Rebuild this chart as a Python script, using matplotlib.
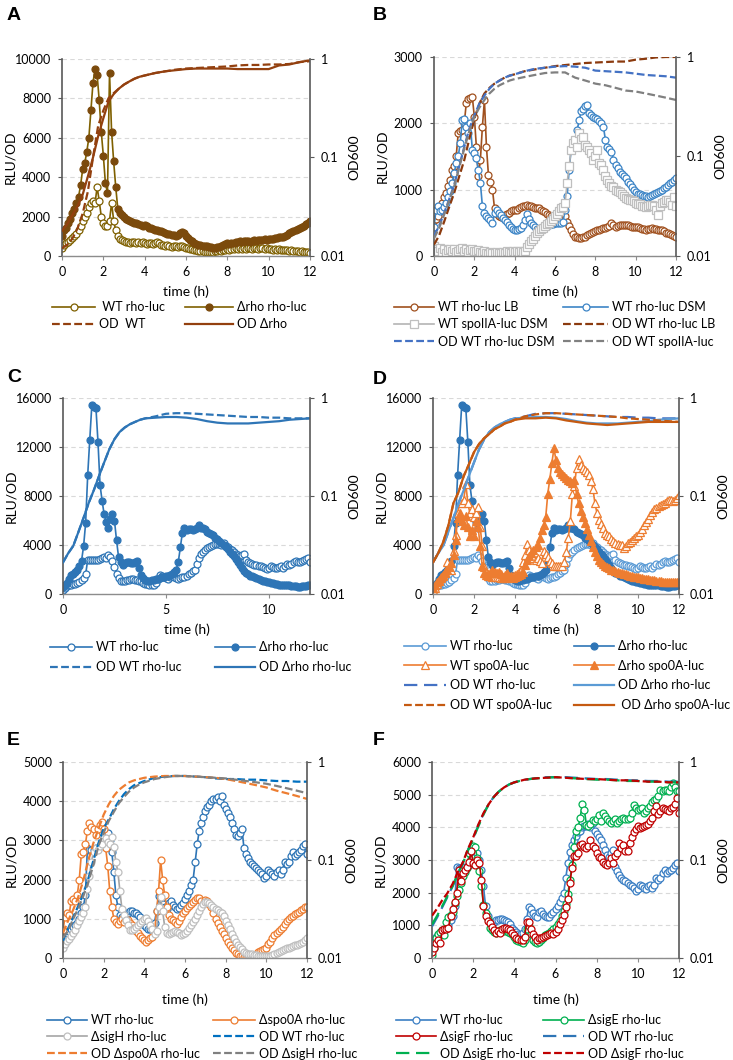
import numpy as np
import matplotlib
matplotlib.use("Agg")
import matplotlib.pyplot as plt
from matplotlib.ticker import NullLocator

plt.rcParams['font.family'] = ['Lato', 'DejaVu Sans']
plt.rcParams['font.size'] = 9

# luminescence read every 0.1 h, OD600 on a coarser grid
t = np.round(np.arange(121) * 0.1, 1)
t_od = [0, 0.25, 0.5, 0.75, 1,
        1.25, 1.5, 1.75, 2,
        2.25, 2.5, 2.75, 3,
        3.25, 3.5, 3.75, 4,
        4.5, 5, 5.5, 6,
        6.5, 7, 7.5, 8,
        8.5, 9, 9.5, 10,
        10.5, 11, 11.5, 12]

# ---- panel A (LB) ----
a_wt = [400, 550, 650, 700, 800, 900, 1000, 1100, 1300, 1500,
        1800, 2000, 2200, 2500, 2700, 2800, 2700, 3500, 2800, 2000,
        1700, 1500, 1500, 1800, 2700, 1800, 1300, 1000, 850, 800,
        750, 700, 700, 650, 700, 700, 650, 700, 650, 700,
        650, 600, 650, 650, 600, 650, 700, 650, 550, 550,
        500, 550, 500, 450, 500, 500, 450, 500, 500, 450,
        400, 400, 350, 350, 300, 300, 250, 250, 250, 220,
        200, 200, 200, 220, 250, 250, 300, 250, 300, 300,
        350, 300, 350, 350, 400, 350, 400, 350, 400, 350,
        400, 400, 350, 400, 400, 350, 400, 400, 350, 400,
        350, 350, 300, 350, 300, 350, 300, 300, 300, 300,
        250, 300, 250, 250, 250, 200, 250, 200, 200, 200,
        150]
a_drho = [1000, 1300, 1400, 1700, 1900, 2200, 2400, 2700, 3000, 3600,
          4400, 4700, 5300, 6000, 7400, 8800, 9500, 9200, 7900, 6300,
          5100, 3700, 3200, 9300, 6300, 4800, 3500, 2400, 2200, 2100,
          2000, 1900, 1850, 1800, 1750, 1700, 1700, 1600, 1550, 1500,
          1550, 1500, 1400, 1400, 1350, 1300, 1300, 1250, 1250, 1200,
          1150, 1100, 1100, 1050, 1050, 1000, 1050, 1150, 1200, 1150,
          1000, 900, 800, 750, 650, 600, 550, 550, 500, 500,
          500, 450, 450, 400, 400, 450, 450, 500, 550, 600,
          650, 600, 650, 650, 700, 700, 750, 700, 750, 750,
          750, 700, 750, 800, 750, 800, 800, 800, 850, 800,
          850, 850, 850, 900, 900, 950, 950, 950, 1000, 1050,
          1150, 1200, 1250, 1300, 1350, 1400, 1450, 1500, 1600, 1700,
          1800]
a_od_wt = [0.012, 0.013, 0.015, 0.019, 0.027,
           0.045, 0.10, 0.21, 0.30,
           0.40, 0.45, 0.50, 0.55,
           0.59, 0.63, 0.66, 0.68,
           0.72, 0.75, 0.78, 0.80,
           0.81, 0.82, 0.83, 0.84,
           0.86, 0.87, 0.87, 0.88,
           0.88, 0.89, 0.93, 0.95]
a_od_drho = [0.018, 0.021, 0.026, 0.032, 0.042,
             0.064, 0.10, 0.165, 0.25,
             0.37, 0.44, 0.50, 0.55,
             0.59, 0.63, 0.66, 0.68,
             0.72, 0.75, 0.77, 0.79,
             0.80, 0.80, 0.80, 0.80,
             0.79, 0.79, 0.79, 0.79,
             0.86, 0.88, 0.93, 0.97]

# ---- panel B (LB vs DSM) ----
b_lb = [540, 560, 600, 700, 800, 890, 950, 1050, 1150, 1300,
        1350, 1500, 1850, 1880, 1900, 2000, 2300, 2370, 2380, 2400,
        2100, 1650, 1200, 1450, 1950, 2350, 1650, 1220, 1120, 1000,
        720, 640, 600, 590, 590, 620, 640, 650, 680, 690,
        700, 700, 720, 740, 750, 760, 770, 760, 750, 740,
        730, 720, 720, 700, 680, 660, 640, 620, 600, 590,
        600, 620, 630, 640, 640, 600, 520, 450, 390, 330,
        290, 280, 270, 270, 280, 290, 310, 330, 350, 365,
        380, 390, 390, 400, 420, 420, 430, 450, 490, 460,
        440, 450, 460, 460, 470, 470, 460, 450, 440, 440,
        440, 430, 420, 410, 400, 390, 400, 410, 415, 400,
        400, 390, 390, 390, 370, 350, 340, 330, 310, 300,
        290]
b_dsm = [440, 700, 750, 680, 700, 740, 800, 890, 980, 1100,
         1250, 1400, 1500, 1700, 2050, 2070, 1950, 1850, 2000, 1600,
         1550, 1470, 1300, 1100, 750, 650, 600, 580, 550, 500,
         650, 690, 650, 620, 570, 540, 510, 470, 430, 400,
         390, 390, 400, 420, 460, 550, 640, 560, 500, 460,
         430, 400, 400, 420, 440, 450, 460, 470, 480, 480,
         490, 490, 490, 500, 520, 700, 900, 1300, 1600, 1650,
         1750, 1900, 2050, 2180, 2220, 2260, 2280, 2150, 2120, 2100,
         2080, 2060, 2030, 2000, 1950, 1750, 1650, 1620, 1570, 1450,
         1370, 1320, 1270, 1240, 1210, 1180, 1120, 1080, 1045, 990,
         960, 940, 930, 920, 910, 900, 895, 900, 920, 940,
         950, 970, 980, 995, 1020, 1045, 1070, 1100, 1120, 1150,
         1170]
b_spo = [150, 100, 80, 120, 60, 100, 50, 90, 110, 70,
         100, 60, 80, 110, 120, 80, 100, 60, 90, 110,
         80, 70, 90, 60, 40, 70, 50, 30, 60, 40,
         50, 60, 40, 50, 60, 50, 70, 60, 50, 70,
         60, 80, 60, 70, 60, 80, 140, 180, 220, 260,
         300, 350, 380, 400, 420, 450, 480, 500, 530, 560,
         600, 640, 680, 720, 740, 800, 1100, 1350, 1600, 1700,
         1750, 1650, 1850, 1770, 1800, 1670, 1650, 1600, 1550, 1450,
         1500, 1600, 1400, 1370, 1300, 1200, 1150, 1100, 1050, 1040,
         1000, 980, 970, 930, 900, 880, 860, 850, 845, 830,
         800, 790, 780, 760, 750, 745, 760, 770, 770, 750,
         700, 620, 750, 800, 820, 840, 850, 820, 770, 890,
         750]
b_od_lb = [0.013, 0.016, 0.022, 0.031, 0.043,
           0.063, 0.092, 0.15, 0.24,
           0.34, 0.43, 0.49, 0.54,
           0.58, 0.62, 0.65, 0.67,
           0.72, 0.75, 0.78, 0.81,
           0.83, 0.85, 0.87, 0.88,
           0.89, 0.90, 0.90, 0.94,
           0.96, 0.99, 1.0, 1.0]
b_od_dsm = [0.016, 0.020, 0.027, 0.037, 0.052,
            0.08, 0.125, 0.19, 0.26,
            0.34, 0.41, 0.48, 0.54,
            0.58, 0.62, 0.65, 0.67,
            0.72, 0.76, 0.78, 0.80,
            0.81, 0.80, 0.78, 0.73,
            0.72, 0.71, 0.70, 0.68,
            0.66, 0.65, 0.64, 0.62]
b_od_spo = [0.015, 0.019, 0.026, 0.036, 0.050,
            0.078, 0.12, 0.18, 0.25,
            0.31, 0.37, 0.43, 0.48,
            0.52, 0.55, 0.58, 0.60,
            0.63, 0.66, 0.69, 0.70,
            0.70, 0.62, 0.58, 0.54,
            0.52, 0.49, 0.46, 0.45,
            0.43, 0.41, 0.39, 0.37]

# ---- rho-luc reporters used in C-F ----
wt_rho = [300, 500, 650, 700, 750, 800, 850, 900, 1000, 1150,
          1300, 1600, 2800, 2750, 2750, 2750, 2800, 2800, 2850, 2950,
          3050, 2900, 3200, 3000, 2700, 2200, 1600, 1300, 1100, 1050,
          1100, 1150, 1150, 1200, 1200, 1150, 1140, 1100, 1050, 930,
          850, 800, 750, 740, 760, 900, 1200, 1570, 1500, 1380,
          1300, 1250, 1400, 1450, 1350, 1300, 1250, 1270, 1350, 1400,
          1500, 1600, 1700, 1850, 2000, 2450, 2900, 3250, 3450, 3600,
          3750, 3850, 3900, 4000, 4050, 4050, 4100, 4000, 4130, 3900,
          3800, 3700, 3600, 3450, 3300, 3150, 3100, 3200, 3300, 2800,
          2650, 2550, 2450, 2400, 2350, 2300, 2250, 2200, 2150, 2050,
          2100, 2250, 2200, 2150, 2100, 2200, 2250, 2150, 2250, 2450,
          2400, 2450, 2600, 2700, 2600, 2650, 2700, 2750, 2850, 2900,
          2650]
drho_rho = [600, 750, 900, 1200, 1550, 1650, 1800, 2000, 2300, 2700,
            3900, 5800, 9700, 12600, 15400, 15300, 15200, 12400, 8900, 7600,
            6500, 5900, 5400, 6100, 6500, 6000, 4400, 3000, 2600, 2400,
            2500, 2650, 2600, 2550, 2500, 2650, 2700, 2100, 1550, 1300,
            1150, 1100, 1100, 1150, 1150, 1200, 1250, 1300, 1350, 1400,
            1450, 1500, 1550, 1650, 1800, 2000, 2600, 3800, 5000, 5400,
            5200, 5300, 5300, 5200, 5300, 5400, 5600, 5400, 5400, 5300,
            5050, 4950, 4900, 4800, 4600, 4450, 4300, 4150, 4000, 3800,
            3650, 3450, 3300, 3100, 2850, 2600, 2350, 2100, 1900, 1700,
            1600, 1500, 1450, 1350, 1300, 1200, 1150, 1100, 1050, 1000,
            950, 900, 880, 850, 800, 760, 750, 740, 740, 720,
            700, 650, 620, 620, 600, 600, 620, 640, 650, 700,
            740]
c_od_drho = [0.021, 0.026, 0.031, 0.043, 0.060,
             0.085, 0.115, 0.16, 0.22,
             0.30, 0.38, 0.45, 0.50,
             0.54, 0.57, 0.60, 0.62,
             0.63, 0.64, 0.64, 0.63,
             0.61, 0.58, 0.56, 0.55,
             0.55, 0.55, 0.56, 0.57,
             0.58, 0.60, 0.61, 0.62]
c_od_wt = [0.021, 0.026, 0.031, 0.043, 0.060,
           0.085, 0.115, 0.16, 0.22,
           0.30, 0.38, 0.45, 0.50,
           0.54, 0.57, 0.60, 0.62,
           0.65, 0.69, 0.70, 0.70,
           0.69, 0.68, 0.67, 0.66,
           0.65, 0.64, 0.64, 0.63,
           0.63, 0.62, 0.62, 0.62]

# ---- panel D (spo0A-luc) ----
wt_spo0a = [330, 500, 800, 1100, 1300, 1500, 1800, 2600, 2200, 2000,
            3500, 4800, 6600, 7400, 7400, 7700, 9000, 7400, 6600, 6900,
            6300, 6600, 7100, 5500, 3900, 2200, 1800, 1650, 1450, 1400,
            1420, 1400, 1350, 1300, 1280, 1300, 1350, 1420, 1450, 1500,
            1550, 1600, 1800, 2000, 2600, 3200, 4100, 3600, 3300, 2900,
            2800, 2900, 2700, 2500, 3500, 3300, 3050, 2700, 2500, 2300,
            2250, 2250, 2250, 2300, 2650, 3400, 4600, 6000, 8200, 8800,
            10300, 11000, 10500, 10300, 10100, 10000, 9700, 9200, 8600, 7400,
            6600, 6050, 5700, 5400, 5000, 4800, 4700, 4500, 4300, 4150,
            4050, 4000, 4000, 3750, 3900, 4150, 4250, 4400, 4550, 4700,
            4850, 5050, 5300, 5650, 5900, 6150, 6450, 6700, 6900, 7050,
            7150, 7280, 7350, 7450, 7600, 7700, 7700, 7600, 7650, 7800,
            8100]
drho_spo0a = [460, 700, 950, 1150, 1350, 1550, 1750, 1950, 2200, 2500,
              3200, 4400, 6200, 6600, 6000, 5600, 6400, 5500, 4700, 5200,
              4700, 6000, 5500, 3900, 2300, 1700, 1550, 1450, 1700, 1950,
              1800, 1700, 1800, 1600, 1420, 1550, 1690, 1450, 1350, 1280,
              1350, 1450, 1550, 1650, 1800, 2400, 2800, 3100, 3350, 3600,
              3800, 4000, 4600, 5200, 5600, 6300, 8200, 9400, 10700, 11900,
              10900, 10300, 10000, 9800, 9600, 9450, 9300, 9200, 9050, 9300,
              8200, 7400, 6800, 6300, 5800, 5300, 4800, 4300, 3850, 3450,
              3100, 2800, 2600, 2450, 2300, 2200, 2100, 2000, 1950, 1850,
              1800, 1750, 1700, 1650, 1600, 1550, 1500, 1450, 1400, 1380,
              1350, 1300, 1280, 1250, 1230, 1200, 1170, 1150, 1120, 1100,
              1080, 1050, 1020, 1010, 1000, 1000, 1000, 1010, 1000, 1000,
              1010]
d_od_drho_spo = [0.021, 0.026, 0.034, 0.050, 0.085,
                 0.11, 0.16, 0.21, 0.28,
                 0.34, 0.39, 0.43, 0.48,
                 0.51, 0.55, 0.57, 0.60,
                 0.62, 0.62, 0.63, 0.62,
                 0.59, 0.57, 0.55, 0.54,
                 0.53, 0.54, 0.55, 0.56,
                 0.57, 0.57, 0.57, 0.57]
d_od_wt_spo = [0.021, 0.026, 0.034, 0.050, 0.085,
               0.11, 0.16, 0.21, 0.28,
               0.34, 0.39, 0.43, 0.48,
               0.51, 0.55, 0.57, 0.60,
               0.65, 0.68, 0.70, 0.70,
               0.69, 0.68, 0.67, 0.66,
               0.65, 0.64, 0.62, 0.61,
               0.60, 0.59, 0.58, 0.57]

# ---- panel E (spo0A / sigH mutants) ----
spo0a_rho = [710, 1050, 1150, 1100, 1450, 1500, 1450, 1600, 2000, 2650,
             2700, 2900, 3250, 3450, 3350, 3300, 3150, 3300, 3400, 3480,
             3300, 2800, 2350, 1700, 1300, 1000, 920, 880, 950, 1000,
             930, 960, 970, 900, 840, 760, 700, 630, 570, 500,
             450, 420, 460, 500, 540, 650, 1200, 1700, 2500, 2000,
             1600, 1300, 1100, 1000, 970, 920, 880, 950, 1050, 1150,
             1200, 1280, 1330, 1380, 1440, 1480, 1520, 1520, 1450, 1390,
             1480, 1450, 1380, 1300, 1150, 1000, 900, 800, 700, 600,
             500, 420, 340, 260, 200, 140, 90, 60, 40, 30,
             20, 30, 40, 60, 80, 100, 150, 180, 200, 230,
             260, 350, 420, 500, 580, 640, 700, 750, 800, 870,
             950, 1000, 1050, 1080, 1120, 1150, 1180, 1220, 1250, 1300,
             1310]
sigh_rho = [250, 350, 440, 480, 550, 640, 720, 830, 950, 1050,
            1150, 1300, 1750, 2100, 2450, 2700, 2800, 2750, 2850, 2920,
            3050, 3050, 2950, 2920, 3090, 2840, 2450, 2200, 1700, 1250,
            1100, 970, 850, 720, 720, 750, 800, 850, 900, 950,
            1000, 1020, 950, 850, 740, 600, 700, 1300, 1550, 1200,
            800, 650, 600, 630, 660, 680, 660, 630, 590, 610,
            640, 690, 760, 850, 920, 990, 1100, 1200, 1310, 1370,
            1420, 1440, 1400, 1360, 1300, 1260, 1230, 1180, 1140, 1060,
            950, 850, 730, 620, 500, 420, 340, 280, 230, 150,
            120, 110, 100, 90, 80, 70, 60, 50, 40, 40,
            40, 40, 60, 80, 100, 120, 150, 180, 210, 230,
            250, 260, 280, 300, 320, 340, 360, 390, 420, 460,
            510]
e_od_wt = [0.015, 0.020, 0.026, 0.034, 0.045,
           0.065, 0.10, 0.15, 0.21,
           0.26, 0.33, 0.40, 0.47,
           0.53, 0.58, 0.61, 0.64,
           0.69, 0.71, 0.72, 0.72,
           0.71, 0.70, 0.68, 0.67,
           0.67, 0.66, 0.66, 0.65,
           0.64, 0.64, 0.63, 0.63]
e_od_spo0a = [0.018, 0.024, 0.031, 0.042, 0.062,
              0.10, 0.15, 0.21, 0.29,
              0.37, 0.45, 0.52, 0.57,
              0.62, 0.65, 0.67, 0.69,
              0.71, 0.72, 0.72, 0.72,
              0.71, 0.70, 0.69, 0.67,
              0.64, 0.61, 0.58, 0.55,
              0.51, 0.48, 0.45, 0.42]
e_od_sigh = [0.016, 0.019, 0.025, 0.032, 0.043,
             0.06, 0.09, 0.14, 0.19,
             0.25, 0.31, 0.38, 0.44,
             0.50, 0.55, 0.59, 0.62,
             0.67, 0.70, 0.72, 0.72,
             0.71, 0.70, 0.69, 0.68,
             0.66, 0.64, 0.62, 0.60,
             0.57, 0.54, 0.51, 0.48]

# ---- panel F (sigE / sigF mutants) ----
sige_rho = [100, 300, 600, 750, 800, 870, 710, 1100, 1250, 1320,
            1400, 1680, 1900, 2080, 2300, 2500, 2620, 2750, 3200, 3350,
            3420, 3400, 3050, 2650, 2200, 1630, 1380, 1200, 930, 850,
            800, 780, 820, 870, 840, 840, 870, 810, 760, 720,
            650, 560, 520, 490, 470, 550, 900, 980, 750, 560,
            500, 470, 500, 560, 620, 690, 730, 770, 830, 900,
            950, 1030, 1130, 1280, 1450, 1650, 1950, 2400, 2850, 3400,
            3900, 4000, 4300, 4700, 4540, 4080, 4030, 4100, 4220, 4200,
            4250, 4390, 4180, 4440, 4360, 4250, 4180, 4130, 4200, 4240,
            4130, 4180, 4240, 4290, 4270, 4240, 4300, 4450, 4690, 4600,
            4540, 4570, 4590, 4440, 4500, 4580, 4650, 4780, 4850, 4870,
            4950, 5150, 5100, 5130, 5150, 5100, 5230, 5360, 5250, 5100,
            5100]
sigf_rho = [180, 300, 450, 560, 450, 850, 880, 890, 920, 1300,
            1500, 1700, 2000, 2700, 2350, 2600, 2700, 2800, 2950, 3270,
            2900, 2850, 3000, 2900, 2400, 1600, 1280, 1120, 1070, 950,
            850, 770, 820, 770, 900, 920, 920, 900, 850, 780,
            700, 610, 570, 560, 560, 650, 1100, 1100, 880, 750,
            650, 560, 600, 610, 640, 680, 710, 740, 770, 730,
            800, 900, 1030, 1170, 1330, 1550, 1800, 2300, 2750, 3110,
            3110, 3200, 3450, 3500, 3400, 3370, 3420, 3600, 3420, 3370,
            3200, 3100, 3060, 2950, 2880, 2860, 2910, 3060, 2910, 3110,
            3200, 3520, 3370, 3450, 3270, 3270, 3520, 3700, 3850, 3950,
            4030, 3980, 4000, 4030, 4060, 4100, 4200, 4300, 4500, 4640,
            4400, 4500, 4590, 4560, 4540, 4490, 4600, 4620, 4700, 4900,
            4440]
f_od_wt = [0.021, 0.026, 0.033, 0.042, 0.054,
           0.072, 0.094, 0.127, 0.167,
           0.225, 0.295, 0.37, 0.44,
           0.50, 0.55, 0.59, 0.62,
           0.66, 0.68, 0.70, 0.70,
           0.70, 0.69, 0.68, 0.67,
           0.67, 0.66, 0.65, 0.65,
           0.64, 0.64, 0.63, 0.63]
f_od_sige = [0.022, 0.027, 0.034, 0.043, 0.054,
             0.072, 0.093, 0.125, 0.165,
             0.22, 0.29, 0.37, 0.44,
             0.50, 0.55, 0.59, 0.62,
             0.66, 0.68, 0.69, 0.70,
             0.69, 0.68, 0.67, 0.66,
             0.66, 0.65, 0.64, 0.64,
             0.63, 0.63, 0.62, 0.62]
f_od_sigf = [0.027, 0.032, 0.039, 0.046, 0.057,
             0.075, 0.095, 0.13, 0.17,
             0.23, 0.30, 0.37, 0.44,
             0.50, 0.55, 0.59, 0.62,
             0.66, 0.68, 0.69, 0.70,
             0.69, 0.68, 0.67, 0.67,
             0.66, 0.65, 0.65, 0.64,
             0.63, 0.63, 0.62, 0.62]

W, H = 733, 1060
FS = 9
FS_PX = FS * 100 / 72
DARK = '#595959'
SHORT = (0, (3.5, 1.5))
LONG = (0, (6, 3))

fig = plt.figure(figsize=(W / 100, H / 100), dpi=100)


def make_panel(box, ymax, ystep, xticks, xgap=29):
    l, top, r, b = box
    w, h = r - l, b - top
    ax = fig.add_axes([l / W, 1 - b / H, w / W, h / H])
    ax.set_xlim(0, 12)
    ax.set_ylim(0, ymax)
    ax.set_xticks(xticks)
    ax.set_yticks(np.arange(0, ymax + 1, ystep))
    ax.yaxis.grid(True, ls=(0, (4, 3)), color='#d9d9d9', lw=0.8)
    ax.set_axisbelow(True)
    ax.spines['top'].set_visible(False)
    ax.spines['right'].set_visible(False)
    ax.spines['left'].set_color(DARK)
    ax.spines['left'].set_linewidth(1.2)
    ax.spines['bottom'].set_color('#8c8c8c')
    ax.spines['bottom'].set_linewidth(1.0)
    ax.tick_params(axis='y', length=3, width=0.8, color=DARK, pad=5, labelsize=FS)
    ax.tick_params(axis='x', length=3, width=0.8, color='#8c8c8c', pad=4, labelsize=FS)
    ax2 = ax.twinx()
    ax2.set_yscale('log')
    ax2.set_ylim(0.01, 1)
    ax2.set_yticks([0.01, 0.1, 1])
    ax2.set_yticklabels(['0.01', '0.1', '1'])
    ax2.yaxis.set_minor_locator(NullLocator())
    for s in ['top', 'left', 'bottom']:
        ax2.spines[s].set_visible(False)
    ax2.spines['right'].set_color(DARK)
    ax2.spines['right'].set_linewidth(1.2)
    ax2.tick_params(axis='y', length=3, width=0.8, color=DARK, pad=5, labelsize=FS)
    ax.set_xlabel('time (h)', fontsize=FS + 1)
    ax.xaxis.set_label_coords(0.5, -xgap / h)
    ax.set_ylabel('RLU/OD', fontsize=FS + 1)
    ax.yaxis.set_label_coords(-46 / w, 0.5)
    ax2.set_ylabel('OD600', fontsize=FS + 1)
    ax2.yaxis.set_label_coords(1 + 38 / w, 0.5)
    return ax, ax2


def lum(ax, y, color, marker='o', filled=False, mc=None, ms=5):
    mc = mc or color
    return ax.plot(t, y, color=color, lw=1.2, marker=marker, ms=ms, mew=0.9,
                   mec=mc, mfc=mc if filled else 'white')[0]


def od(ax2, y, color, ls='-'):
    return ax2.plot(t_od, y, color=color, lw=1.6, ls=ls)[0]


def col_legend(lines, labels, x, y, pitch, hlen):
    fig.legend(lines, labels, loc='upper left',
               bbox_to_anchor=(x / W, 1 - (y - 6) / H),
               frameon=False, borderpad=0, borderaxespad=0,
               handlelength=hlen / FS_PX, handletextpad=0.3,
               labelspacing=(pitch - 11) / FS_PX, fontsize=FS)


def letter(x, y, s):
    fig.text(x / W, 1 - y / H, s, ha='left', va='top', fontsize=14,
             fontweight='bold', family=['Liberation Sans', 'DejaVu Sans'])


# A
ax, ax2 = make_panel((62, 59, 310, 256), 10000, 2000, range(0, 13, 2))
A_LINE, A_MK, A_OD = '#7f6000', '#7b4a0c', '#93400f'
h1 = lum(ax, a_wt, A_LINE)
h2 = lum(ax, a_drho, A_LINE, filled=True, mc=A_MK)
h3 = od(ax2, a_od_wt, A_OD, SHORT)
h4 = od(ax2, a_od_drho, A_OD)
col_legend([h1, h3], [' WT rho-luc', 'OD  WT'], 52, 307, 16, 43)
col_legend([h2, h4], ['\u0394rho rho-luc', 'OD \u0394rho'], 185, 307, 16, 48)
letter(7, 7, 'A')

# B
ax, ax2 = make_panel((434, 57, 676, 256), 3000, 1000, range(0, 13, 2))
h1 = lum(ax, b_lb, '#a0501e')
h2 = lum(ax, b_dsm, '#3d85c6')
h3 = lum(ax, b_spo, '#b4b4b4', marker='s', mc='#bfbfbf', ms=5.2)
h4 = od(ax2, b_od_lb, '#8b3a0e', SHORT)
h5 = od(ax2, b_od_dsm, '#4472c4', SHORT)
h6 = od(ax2, b_od_spo, '#808080', SHORT)
col_legend([h1, h3, h5], ['WT rho-luc LB', 'WT spoIIA-luc DSM', 'OD WT rho-luc DSM'],
           394, 307, 16.3, 40)
col_legend([h2, h4, h6], ['WT rho-luc DSM', 'OD WT rho-luc LB', 'OD WT spoIIA-luc'],
           563, 307, 16.3, 45)
letter(373, 7, 'B')

# C
ax, ax2 = make_panel((63, 398, 310, 594), 16000, 4000, [0, 5, 10])
C_BLUE = '#2e75b6'
h1 = lum(ax, wt_rho, C_BLUE)
h2 = lum(ax, drho_rho, C_BLUE, filled=True)
h3 = od(ax2, c_od_wt, C_BLUE, SHORT)
h4 = od(ax2, c_od_drho, C_BLUE)
col_legend([h1, h3], ['WT rho-luc', 'OD WT rho-luc'], 50, 647, 19, 42)
col_legend([h2, h4], ['\u0394rho rho-luc', 'OD \u0394rho rho-luc'], 215, 647, 19, 40)
letter(7, 369, 'C')

# D
ax, ax2 = make_panel((433, 398, 679, 594), 16000, 4000, range(0, 13, 2))
h1 = lum(ax, wt_rho, '#5b9bd5')
h2 = lum(ax, drho_rho, '#2e75b6', filled=True)
h3 = lum(ax, wt_spo0a, '#ed7d31', marker='^', ms=5.4)
h4 = lum(ax, drho_spo0a, '#ed7d31', marker='^', filled=True, ms=5.4)
h5 = od(ax2, c_od_wt, '#4472c4', LONG)
h6 = od(ax2, c_od_drho, '#5b9bd5')
h7 = od(ax2, d_od_wt_spo, '#c55a11', SHORT)
h8 = od(ax2, d_od_drho_spo, '#c55a11')
col_legend([h1, h3, h5, h7], ['WT rho-luc', 'WT spo0A-luc', 'OD WT rho-luc', 'OD WT spo0A-luc'],
           404, 646, 18.7, 42)
col_legend([h2, h4, h6, h8], ['\u0394rho rho-luc', '\u0394rho spo0A-luc', 'OD \u0394rho rho-luc',
                              ' OD \u0394rho spo0A-luc'], 574, 646, 18.7, 40)
letter(373, 371, 'D')

# E
ax, ax2 = make_panel((63, 762, 307, 958), 5000, 1000, range(0, 13, 2), xgap=35)
h1 = lum(ax, wt_rho, '#2e75b6')
h2 = lum(ax, spo0a_rho, '#ed7d31')
h3 = lum(ax, sigh_rho, '#a5a5a5', mc='#bfbfbf')
h4 = od(ax2, e_od_wt, '#0070c0', SHORT)
h5 = od(ax2, e_od_spo0a, '#ed7d31', SHORT)
h6 = od(ax2, e_od_sigh, '#808080', SHORT)
col_legend([h1, h3, h5], ['WT rho-luc', '\u0394sigH rho-luc', 'OD \u0394spo0A rho-luc'],
           47, 1020, 15.8, 40)
col_legend([h2, h4, h6], ['\u0394spo0A rho-luc', 'OD WT rho-luc', 'OD \u0394sigH rho-luc'],
           213, 1020, 15.8, 42)
letter(7, 732, 'E')

# F
ax, ax2 = make_panel((432, 762, 679, 958), 6000, 1000, range(0, 13, 2), xgap=35)
h1 = lum(ax, wt_rho, '#3b7fc4')
h2 = lum(ax, sige_rho, '#00b050')
h3 = lum(ax, sigf_rho, '#c00000')
h4 = od(ax2, f_od_wt, '#2e75b6', LONG)
h5 = od(ax2, f_od_sige, '#00b050', LONG)
h6 = od(ax2, f_od_sigf, '#c00000', SHORT)
col_legend([h1, h3, h5], ['WT rho-luc', '\u0394sigF rho-luc', 'OD \u0394sigE rho-luc'],
           396, 1020, 15.8, 40)
col_legend([h2, h4, h6], ['\u0394sigE rho-luc', 'OD WT rho-luc', 'OD \u0394sigF rho-luc'],
           543, 1020, 15.8, 41)
letter(373, 732, 'F')

fig.savefig('out.png', dpi=100)
